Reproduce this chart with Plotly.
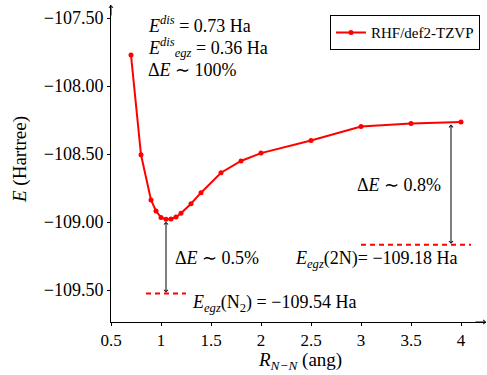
import plotly.graph_objects as go

# ---- data ----
R = [0.7, 0.8, 0.9, 0.95, 1.0, 1.05, 1.1, 1.15, 1.2, 1.3, 1.4, 1.6, 1.8, 2.0, 2.5, 3.0, 3.5, 4.0]
E = [-107.772, -108.505, -108.838, -108.919, -108.966, -108.980, -108.978, -108.963,
     -108.936, -108.865, -108.784, -108.637, -108.551, -108.493, -108.400, -108.297,
     -108.275, -108.265]
series_name = "RHF/def2-TZVP"

egz_N2_x = [0.85, 1.25]
egz_N2_y = -109.525
egz_2N_x = [3.0, 4.1]
egz_2N_y = -109.167

x_ticks = [0.5, 1, 1.5, 2, 2.5, 3, 3.5, 4]
y_ticks = [-107.5, -108.0, -108.5, -109.0, -109.5]
x_range = [0.5, 4.25]
y_range = [-109.735, -107.404]

FONT = "Liberation Serif, serif"
RED = "#ff0000"
FS = 18

fig = go.Figure()
fig.add_trace(go.Scatter(x=R, y=E, mode="lines+markers", name=series_name,
                         line=dict(color=RED, width=2),
                         marker=dict(color=RED, size=5)))
fig.add_trace(go.Scatter(x=egz_N2_x, y=[egz_N2_y] * 2, mode="lines", showlegend=False,
                         line=dict(color=RED, width=2, dash="5px,4px")))
fig.add_trace(go.Scatter(x=egz_2N_x, y=[egz_2N_y] * 2, mode="lines", showlegend=False,
                         line=dict(color=RED, width=2, dash="5px,4px")))

ann = []
def txt(x, y, s, xanchor="left", size=FS):
    ann.append(dict(x=x, y=y, xref="x", yref="y", text=s, showarrow=False,
                    xanchor=xanchor, yanchor="middle",
                    font=dict(size=size, color="black", family=FONT)))

txt(0.85, -107.544, "<i>E</i><sup><i>dis</i></sup> = 0.73 Ha")
txt(0.85, -107.713, "<i>E</i><sup><i>dis</i></sup><sub><i>egz</i></sub> = 0.36 Ha")
txt(0.85, -107.882, "Δ<i>E</i> ∼ 100%")
txt(1.12, -109.265, "Δ<i>E</i> ∼ 0.5%")
txt(1.29, -109.596, "<i>E</i><sub><i>egz</i></sub>(N<sub>2</sub>) = −109.54 Ha")
txt(3.82, -108.728, "Δ<i>E</i> ∼ 0.8%", xanchor="right")
txt(2.32, -109.272, "<i>E</i><sub><i>egz</i></sub>(2N)= −109.18 Ha")

# double arrows
E_min = min(E)
for xa, y0, y1 in [(1.05, egz_N2_y, E_min), (3.9, egz_2N_y, E[-1])]:
    ann.append(dict(x=xa, y=y0, ax=xa, ay=y1, xref="x", yref="y", axref="x", ayref="y",
                    text="", showarrow=True, arrowhead=4, startarrowhead=4,
                    arrowside="end+start", arrowsize=0.8, arrowwidth=1, arrowcolor="black",
                    standoff=1, startstandoff=1))

# axis arrowheads
ann.append(dict(x=1, y=0, xref="paper", yref="paper", ax=-12, ay=0, text="", showarrow=True,
                arrowhead=4, arrowsize=0.8, arrowwidth=1, arrowcolor="black"))
ann.append(dict(x=0, y=1, xref="paper", yref="paper", ax=0, ay=12, text="", showarrow=True,
                arrowhead=4, arrowsize=0.8, arrowwidth=1, arrowcolor="black"))

# axis titles
ann.append(dict(x=0, y=0.511, xref="paper", yref="paper", xshift=-91, textangle=-90,
                text="<i>E</i> (Hartree)", showarrow=False, xanchor="center", yanchor="middle",
                font=dict(size=19, color="black", family=FONT)))
ann.append(dict(x=0.504, y=0, xref="paper", yref="paper", yshift=-53,
                text="<i>R</i><sub><i>N−N</i></sub> (ang)", showarrow=False,
                xanchor="center", yanchor="bottom", font=dict(size=19, color="black", family=FONT)))

tf = dict(size=17, family=FONT, color="black")
fig.update_layout(
    width=487, height=375,
    margin=dict(l=111, r=1, t=5, b=53),
    paper_bgcolor="white", plot_bgcolor="white",
    font=dict(family=FONT, size=FS, color="black"),
    annotations=ann,
    legend=dict(x=0.984, y=0.968, xanchor="right", yanchor="top",
                bordercolor="black", borderwidth=1, bgcolor="white",
                font=dict(size=15, family=FONT, color="black"), itemwidth=30,
                tracegroupgap=0),
    xaxis=dict(range=x_range, tickvals=x_ticks, ticks="outside", ticklen=3, tickcolor="black",
               showline=True, linecolor="black", linewidth=1, showgrid=False, zeroline=False,
               tickfont=tf),
    yaxis=dict(range=y_range, tickvals=y_ticks, tickformat=".2f", ticks="outside", ticklen=3,
               tickcolor="black", showline=True, linecolor="black", linewidth=1,
               showgrid=False, zeroline=False, tickfont=dict(size=18, family=FONT, color="black")),
    xaxis2=dict(range=x_range, tickvals=x_ticks, ticks="inside", ticklen=3, tickcolor="black",
                overlaying="x", anchor="y", showticklabels=False, showline=False,
                showgrid=False, zeroline=False),
    yaxis2=dict(range=y_range, tickvals=y_ticks, ticks="inside", ticklen=3, tickcolor="black",
                overlaying="y", anchor="x", side="left", showticklabels=False, showline=False,
                showgrid=False, zeroline=False),
)

fig.write_html("out.html")
